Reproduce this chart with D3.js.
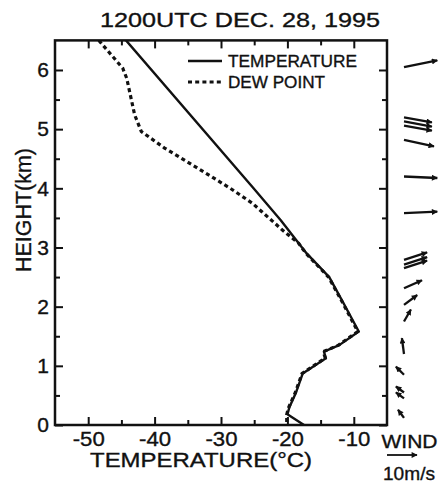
<!DOCTYPE html>
<html><head><meta charset="utf-8">
<script src="https://cdn.jsdelivr.net/npm/d3@7"></script>
<style>
body{margin:0;background:#fff;}
text{font-family:"Liberation Sans",Arial,sans-serif;fill:#111;stroke:#111;stroke-width:0.35px;}
</style></head>
<body><svg id="c" width="442" height="486"></svg>
<script>
// ---- data ----
const tempHeights = [6.5, 4.0, 3.46, 2.9, 2.5, 2.05, 1.58, 1.35, 1.24, 1.13, 0.87, 0.55, 0.3, 0.18, 0.0];
const tempValues  = [-44.3, -25.1, -21.0, -17.1, -13.7, -11.5, -9.25, -12.2, -14.5, -14.2, -17.7, -18.7, -19.7, -20.0, -17.5];
const dewHeights  = [6.5, 6.03, 5.86, 5.24, 4.96, 4.68, 4.34, 4.0, 3.75, 3.6, 3.3, 3.07, 2.9, 2.5, 2.05, 1.58, 1.35, 1.24, 1.13, 0.87, 0.55, 0.3, 0.18, 0.0];
const dewValues   = [-48.4, -44.8, -44.2, -43.0, -42.0, -38.5, -33.5, -28.6, -25.3, -23.8, -20.8, -18.3, -17.2, -13.8, -11.6, -9.4, -12.3, -14.6, -14.3, -17.8, -18.8, -19.8, -20.1, -20.1];
// wind: height (km), eastward u and northward v components (m/s)
const windHeights = [6.05, 5.2, 5.13, 5.06, 4.82, 4.2, 3.58, 2.79, 2.71, 2.65, 2.31, 2.03, 1.75, 1.2, 0.85, 0.55, 0.45, 0.12];
const windU       = [11.1, 9.3, 9.3, 9.3, 10.0, 11.1, 11.1, 7.7, 7.7, 7.7, 6.0, 4.4, 2.3, -0.7, -2.7, -2.7, -2.7, -2.0];
const windV       = [2.2, -1.7, -1.7, -1.7, -2.2, -0.5, 0.5, 2.5, 2.5, 2.5, 2.7, 3.3, 4.0, 5.3, 2.7, 2.0, 2.0, 2.7];
const refWind = 10; // m/s reference arrow
const xMajorTicks = [-50, -40, -30, -20, -10];
const xMinorTicks = [-45, -35, -25, -15];
const yMajorTicks = [0, 1, 2, 3, 4, 5, 6];
const yMinorTicks = [0.5, 1.5, 2.5, 3.5, 4.5, 5.5];
const titleText = "1200UTC   DEC. 28, 1995";

// ---- layout ----
const svg = d3.select("#c");
const L = 55, R = 387, T = 40.4, B = 425;
const x = d3.scaleLinear([-55, -5], [L, R]);
const y = d3.scaleLinear([0, 6.5], [B, T]);
const wScale = d3.scaleLinear([0, 10], [0, 30]); // px per m/s

svg.append("rect").attr("width", 442).attr("height", 486).attr("fill", "#fff");

// axes
function ax(gen, tr, vals, size, labels) {
  const g = svg.append("g").attr("transform", tr)
    .call(gen.tickValues(vals).tickSizeInner(size).tickSizeOuter(0).tickPadding(labels ? 7 : 0)
      .tickFormat(labels ? d3.format("d") : () => ""));
  g.select(".domain").remove();
  g.selectAll(".tick line").attr("stroke", "#111").attr("stroke-width", 2);
  return g;
}
const gb = ax(d3.axisBottom(x), `translate(0,${B})`, xMajorTicks, -8, true);
gb.selectAll("text").attr("font-size", 20).attr("fill", "#111")
  .text(d => "-" + Math.abs(d)).attr("textLength", 32).attr("lengthAdjust", "spacingAndGlyphs");
ax(d3.axisBottom(x), `translate(0,${B})`, xMinorTicks, -5, false);
ax(d3.axisTop(x), `translate(0,${T})`, xMajorTicks, -8, false);
ax(d3.axisTop(x), `translate(0,${T})`, xMinorTicks, -5, false);
const gl = ax(d3.axisLeft(y), `translate(${L},0)`, yMajorTicks, -8, true);
gl.selectAll("text").attr("font-size", 21).attr("fill", "#111").attr("x", -6);
ax(d3.axisLeft(y), `translate(${L},0)`, yMinorTicks, -5, false);
ax(d3.axisRight(y), `translate(${R},0)`, yMajorTicks, -8, false);
ax(d3.axisRight(y), `translate(${R},0)`, yMinorTicks, -5, false);

// frame
svg.append("rect").attr("x", L).attr("y", T).attr("width", R - L).attr("height", B - T)
  .attr("fill", "none").attr("stroke", "#111").attr("stroke-width", 2.5);

// curves
svg.append("clipPath").attr("id", "pc").append("rect")
  .attr("x", L).attr("y", T).attr("width", R - L).attr("height", B - T);
const line = d3.line().x(d => x(d[0])).y(d => y(d[1]));
svg.append("path").attr("clip-path", "url(#pc)")
  .attr("d", line(dewValues.map((v, i) => [v, dewHeights[i]])))
  .attr("fill", "none").attr("stroke", "#111").attr("stroke-width", 3.2)
  .attr("stroke-dasharray", "4,3.2");
svg.append("path").attr("clip-path", "url(#pc)")
  .attr("d", line(tempValues.map((v, i) => [v, tempHeights[i]])))
  .attr("fill", "none").attr("stroke", "#111").attr("stroke-width", 2.4)
  .attr("stroke-linejoin", "round");

// legend
svg.append("line").attr("x1", 188).attr("x2", 222).attr("y1", 61).attr("y2", 61)
  .attr("stroke", "#111").attr("stroke-width", 2.6);
svg.append("line").attr("x1", 188).attr("x2", 222).attr("y1", 82).attr("y2", 82)
  .attr("stroke", "#111").attr("stroke-width", 3.2).attr("stroke-dasharray", "4,3.2");
svg.append("text").attr("x", 228).attr("y", 67).attr("font-size", 16.5)
  .attr("textLength", 129).attr("lengthAdjust", "spacingAndGlyphs").text("TEMPERATURE");
svg.append("text").attr("x", 228).attr("y", 88).attr("font-size", 16.5)
  .attr("textLength", 97).attr("lengthAdjust", "spacingAndGlyphs").text("DEW POINT");

// titles
svg.append("text").attr("x", 100).attr("y", 27).attr("font-size", 21)
  .attr("textLength", 280).attr("lengthAdjust", "spacingAndGlyphs").text(titleText);
svg.append("text").attr("x", 90).attr("y", 467).attr("font-size", 20.5)
  .attr("textLength", 222).attr("lengthAdjust", "spacingAndGlyphs").text("TEMPERATURE(°C)");
svg.append("text").attr("transform", "translate(31,272) rotate(-90)").attr("font-size", 22)
  .attr("textLength", 124).attr("lengthAdjust", "spacingAndGlyphs").text("HEIGHT(km)");

// wind arrows
const defs = svg.append("defs");
defs.append("marker").attr("id", "ah").attr("viewBox", "0 0 10 10").attr("refX", 9).attr("refY", 5)
  .attr("markerWidth", 7).attr("markerHeight", 6).attr("markerUnits", "userSpaceOnUse")
  .attr("orient", "auto")
  .append("path").attr("d", "M0,0L10,5L0,10Z").attr("fill", "#111");
const tailX = 404;
const winds = windHeights.map((h, i) => ({ h, u: windU[i], v: windV[i] }));
svg.append("g").selectAll("line").data(winds).join("line")
  .attr("x1", tailX).attr("y1", d => y(d.h))
  .attr("x2", d => tailX + wScale(d.u)).attr("y2", d => y(d.h) - wScale(d.v))
  .attr("stroke", "#111").attr("stroke-width", 2.3).attr("marker-end", "url(#ah)");

// wind legend
svg.append("text").attr("x", 381.5).attr("y", 448).attr("font-size", 18.5)
  .attr("textLength", 56).attr("lengthAdjust", "spacingAndGlyphs").text("WIND");
svg.append("line").attr("x1", 387).attr("x2", 387 + wScale(refWind)).attr("y1", 455).attr("y2", 455)
  .attr("stroke", "#111").attr("stroke-width", 1.8).attr("marker-end", "url(#ah)");
svg.append("text").attr("x", 383).attr("y", 480).attr("font-size", 18)
  .attr("textLength", 52).attr("lengthAdjust", "spacingAndGlyphs").text("10m/s");
</script></body></html>
